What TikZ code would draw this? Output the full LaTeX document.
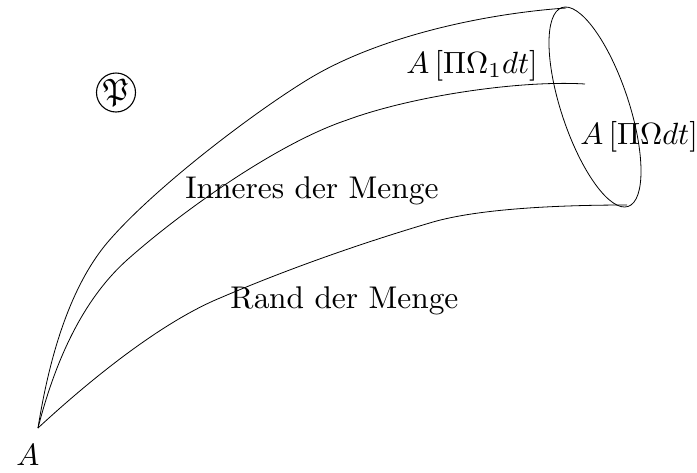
\documentclass[tikz,border=0pt]{standalone}
\usepackage{amsfonts}
\font\wordfont=cmr10 at 31.4pt
\tikzset{lbl/.style={inner sep=0pt,anchor=base west}}
\begin{document}
\begin{tikzpicture}[x=1pt,y=-1pt,line width=0.8pt]
\useasboundingbox (0,0) rectangle (697,472);
\coordinate (A) at (38,428);
\coordinate (T) at (566,8);
\coordinate (B) at (627,205);
\coordinate (M) at (585,84);
\draw (A) .. controls (52,340) and (76,280) .. (107,243) .. controls (152,190) and (250,115) .. (307,80) .. controls (375,38) and (480,14) .. (T);
\draw (A) .. controls (58,350) and (88,295) .. (127,260) .. controls (182,211) and (278,143) .. (347,120) .. controls (412,96) and (520,80) .. (M);
\draw (A) .. controls (92,378) and (162,322) .. (220,298) .. controls (290,268) and (365,242) .. (433,222) .. controls (480,208.5) and (560,205) .. (B);
\draw[rotate around={18.4:(595,107)}] (595,107) ellipse (33.7 and 104.8);
\node[lbl] (a) at (16,465) {\scalebox{3.07}{$A$}};
\node[lbl] (o1) at (406,73) {\scalebox{3.07}{$A\,[\Pi\Omega_1 dt]$}};
\node[lbl] (o) at (580,144) {\scalebox{3.07}{$A\,[\Pi\Omega dt]$}};
\node[lbl] (i) at (185,198) {\wordfont Inneres der Menge};
\node[lbl] (r) at (230,308) {\wordfont Rand der Menge};
\node[draw,circle,inner sep=0pt,minimum size=39pt,line width=1.1pt] (p) at (116,92.5) {\scalebox{3.1}{$\mathfrak{P}$}};
\end{tikzpicture}
\end{document}
